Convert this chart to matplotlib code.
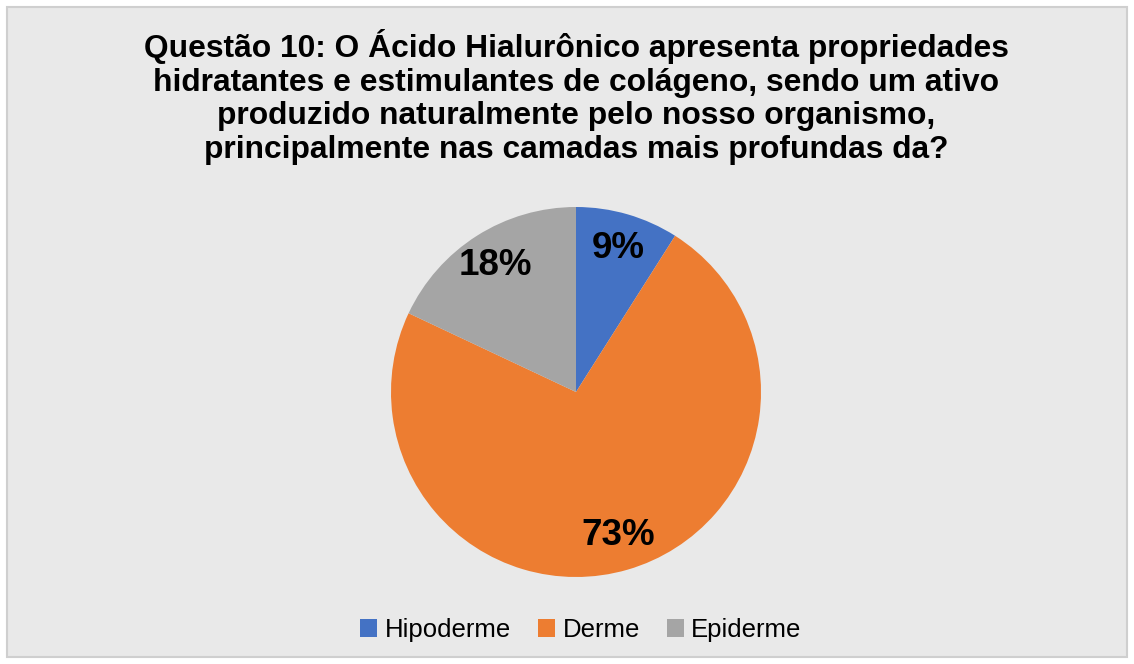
import matplotlib.pyplot as plt
from matplotlib.patches import Rectangle

plt.rcParams['font.family'] = ['Liberation Sans', 'DejaVu Sans']

title = ('Questão 10: O Ácido Hialurônico apresenta propriedades\n'
         'hidratantes e estimulantes de colágeno, sendo um ativo\n'
         'produzido naturalmente pelo nosso organismo,\n'
         'principalmente nas camadas mais profundas da?')
labels = ['Hipoderme', 'Derme', 'Epiderme']
values = [9, 73, 18]
colors = ['#4472C4', '#ED7D31', '#A5A5A5']

W, H = 1134, 664
fig = plt.figure(figsize=(W / 100, H / 100), dpi=100)
fig.patch.set_facecolor('white')

# light grey chart area with a thin border
bg = fig.add_axes([0, 0, 1, 1], zorder=0)
bg.add_patch(Rectangle((7 / W, 7 / H), (W - 14) / W, (H - 14) / H,
                       facecolor='#e9e9e9', edgecolor='#cfcfcf', linewidth=1.5))
bg.set_xlim(0, 1)
bg.set_ylim(0, 1)
bg.axis('off')

fig.text(576 / W, 1 - 29 / H, title, ha='center', va='top', fontsize=22.9,
         fontweight='bold', linespacing=1.16, zorder=3)

cx, cy, r = 576, 392, 185
ax = fig.add_axes([(cx - r) / W, (H - cy - r) / H, 2 * r / W, 2 * r / H], zorder=2)
wedges, texts, autotexts = ax.pie(values, colors=colors, startangle=90, counterclock=False,
                                  autopct='%1.0f%%', pctdistance=0.81,
                                  wedgeprops=dict(linewidth=0),
                                  textprops=dict(fontsize=26.5, fontweight='bold', color='black'))
ax.set_aspect('equal')
ax.set_xlim(-1, 1)
ax.set_ylim(-1, 1)
ax.axis('off')

leg = fig.legend(wedges, labels, loc='center', bbox_to_anchor=(581 / W, 1 - 630 / H), ncol=3,
                 frameon=False, fontsize=18.5, handlelength=0.65, handleheight=0.65,
                 handletextpad=0.3, columnspacing=1.05)
leg.set_zorder(3)

fig.savefig('out.png', dpi=100, facecolor=fig.get_facecolor())
